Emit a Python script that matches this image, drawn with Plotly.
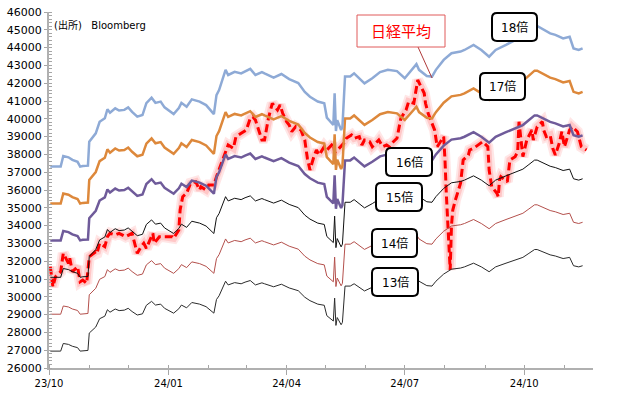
import plotly.graph_objects as go

# ---------------- data ----------------
nikkei_dates = [
    "2023-10-02", "2023-10-04", "2023-10-06", "2023-10-10", "2023-10-12", "2023-10-16", "2023-10-17",
    "2023-10-19", "2023-10-23", "2023-10-25", "2023-10-27", "2023-10-30", "2023-11-01", "2023-11-06",
    "2023-11-07", "2023-11-09", "2023-11-13", "2023-11-15", "2023-11-17", "2023-11-21", "2023-11-24",
    "2023-11-29", "2023-12-04", "2023-12-06", "2023-12-08", "2023-12-11", "2023-12-13", "2023-12-15",
    "2023-12-20", "2023-12-21", "2023-12-25", "2023-12-29", "2024-01-04", "2024-01-05", "2024-01-09",
    "2024-01-10", "2024-01-12", "2024-01-15", "2024-01-18", "2024-01-22", "2024-01-25", "2024-01-26",
    "2024-01-30", "2024-02-01", "2024-02-05", "2024-02-07", "2024-02-09", "2024-02-13", "2024-02-16",
    "2024-02-20", "2024-02-22", "2024-02-26", "2024-03-01", "2024-03-04", "2024-03-06", "2024-03-08",
    "2024-03-11", "2024-03-13", "2024-03-15", "2024-03-18", "2024-03-21", "2024-03-25", "2024-03-27",
    "2024-03-29", "2024-04-01", "2024-04-03", "2024-04-05", "2024-04-08", "2024-04-12", "2024-04-15",
    "2024-04-17", "2024-04-19", "2024-04-22", "2024-04-24", "2024-04-26", "2024-04-30", "2024-05-02",
    "2024-05-07", "2024-05-08", "2024-05-10", "2024-05-15", "2024-05-17", "2024-05-21", "2024-05-23",
    "2024-05-27", "2024-05-29", "2024-05-31", "2024-06-04", "2024-06-06", "2024-06-10", "2024-06-11",
    "2024-06-14", "2024-06-17", "2024-06-19", "2024-06-21", "2024-06-25", "2024-06-27", "2024-06-28",
    "2024-07-02", "2024-07-04", "2024-07-08", "2024-07-10", "2024-07-11", "2024-07-16", "2024-07-17",
    "2024-07-19", "2024-07-24", "2024-07-26", "2024-07-29", "2024-07-31", "2024-08-01", "2024-08-02",
    "2024-08-05", "2024-08-06", "2024-08-07", "2024-08-09", "2024-08-13", "2024-08-15", "2024-08-19",
    "2024-08-20", "2024-08-23", "2024-08-27", "2024-08-29", "2024-08-30", "2024-09-03", "2024-09-04",
    "2024-09-06", "2024-09-10", "2024-09-11", "2024-09-12", "2024-09-13", "2024-09-18", "2024-09-20",
    "2024-09-24", "2024-09-26", "2024-09-27", "2024-09-30", "2024-10-03", "2024-10-07", "2024-10-08",
    "2024-10-11", "2024-10-15", "2024-10-16", "2024-10-18", "2024-10-21", "2024-10-23", "2024-10-25",
    "2024-10-28", "2024-10-30", "2024-11-01", "2024-11-05", "2024-11-07", "2024-11-11", "2024-11-13",
    "2024-11-14", "2024-11-18",
]
nikkei = [
    31691, 30567, 31129, 31410, 32444, 31882, 32163,
    31410, 31691, 30848, 30944, 30758, 32253, 32534,
    32444, 33006, 32815, 33376, 33567, 33472, 33567,
    33376, 33567, 33006, 32444, 32815, 33006, 32725,
    33567, 33006, 33376, 33376, 33376, 33286, 33753,
    34876, 35624, 35815, 36376, 36466, 36000, 36185,
    36000, 36281, 36281, 36747, 37124, 37871, 38528,
    38343, 38994, 39185, 39371, 40028, 40118, 39933,
    39275, 38809, 38809, 40028, 40871, 40494, 40775,
    40309, 39837, 39652, 39275, 39556, 39371, 38809,
    37781, 37124, 37871, 38247, 37966, 38433, 38247,
    38624, 38100, 38229, 38624, 38904, 39090, 38904,
    39000, 38528, 38809, 38713, 38433, 38713, 38809,
    38433, 38528, 38433, 38624, 38904, 39556, 40028,
    40494, 40961, 40871, 41803, 42180, 41433, 40871,
    40309, 39371, 38433, 38809, 39000, 37685, 35815,
    31506, 34000, 34876, 35438, 36376, 37685, 37966,
    38247, 38343, 38528, 38624, 38713, 38433, 37124,
    36185, 35815, 35627, 36562, 36747, 36466, 37685,
    37871, 38152, 39837, 37871, 38809, 39371, 38809,
    39556, 39837, 39371, 39000, 39090, 38343, 37966,
    38624, 39275, 38433, 39371, 39556, 39275, 38624,
    38433, 38247,
]

# forward EPS (yen) underlying the PER band lines
eps_dates = [
    "2023-10-02", "2023-10-06", "2023-10-10", "2023-10-12", "2023-10-16", "2023-10-19", "2023-10-23",
    "2023-10-25", "2023-10-27", "2023-10-31", "2023-11-01", "2023-11-06", "2023-11-09", "2023-11-13",
    "2023-11-15", "2023-11-17", "2023-11-21", "2023-11-24", "2023-11-28", "2023-12-01", "2023-12-04",
    "2023-12-08", "2023-12-12", "2023-12-15", "2023-12-19", "2023-12-22", "2023-12-26", "2023-12-29",
    "2024-01-05", "2024-01-09", "2024-01-11", "2024-01-15", "2024-01-19", "2024-01-25", "2024-01-30",
    "2024-02-05", "2024-02-07", "2024-02-09", "2024-02-14", "2024-02-16", "2024-02-21", "2024-02-26",
    "2024-02-29", "2024-03-04", "2024-03-08", "2024-03-13", "2024-03-15", "2024-03-22", "2024-03-28",
    "2024-04-03", "2024-04-10", "2024-04-15", "2024-04-19", "2024-04-25", "2024-04-30", "2024-05-02",
    "2024-05-07", "2024-05-08", "2024-05-09", "2024-05-10", "2024-05-13", "2024-05-14", "2024-05-16",
    "2024-05-20", "2024-05-23", "2024-05-27", "2024-05-31", "2024-06-06", "2024-06-12", "2024-06-18",
    "2024-06-25", "2024-07-01", "2024-07-05", "2024-07-10", "2024-07-12", "2024-07-18", "2024-07-22",
    "2024-07-25", "2024-07-31", "2024-08-06", "2024-08-13", "2024-08-16", "2024-08-23", "2024-08-29",
    "2024-09-04", "2024-09-09", "2024-09-17", "2024-09-24", "2024-09-30", "2024-10-04", "2024-10-09",
    "2024-10-11", "2024-10-17", "2024-10-21", "2024-10-25", "2024-10-31", "2024-11-05", "2024-11-08",
    "2024-11-12", "2024-11-15",
]
eps = [
    2073, 2073, 2073, 2106, 2102, 2094, 2088,
    2073, 2075, 2076, 2151, 2177, 2213, 2224,
    2252, 2241, 2255, 2248, 2250, 2258, 2244,
    2229, 2234, 2271, 2288, 2272, 2276, 2258,
    2237, 2256, 2272, 2260, 2283, 2276, 2265,
    2237, 2296, 2312, 2375, 2359, 2369, 2364,
    2371, 2378, 2359, 2368, 2364, 2351, 2362,
    2346, 2334, 2306, 2291, 2276, 2271, 2226,
    2203, 2302, 2184, 2218, 2187, 2197, 2354,
    2354, 2364, 2349, 2333, 2349, 2368, 2375,
    2371, 2349, 2368, 2393, 2375, 2356, 2354,
    2375, 2406, 2427, 2432, 2437, 2453, 2437,
    2416, 2437, 2453, 2468, 2478, 2493, 2512,
    2512, 2499, 2489, 2484, 2473, 2478, 2442,
    2437, 2442,
]

multiples = [13, 14, 15, 16, 17, 18]
multiple_labels = ["13倍", "14倍", "15倍", "16倍", "17倍", "18倍"]
series_label = "日経平均"
source_label = "(出所)\u00a0\u00a0\u00a0Bloomberg"

y_ticks = list(range(26000, 46001, 1000))
x_tick_labels = ["23/10", "24/01", "24/04", "24/07", "24/10"]

# ---------------- styling ----------------
band_style = {
    13: dict(color="#2b2b2b", width=1),
    14: dict(color="#b4504c", width=1),
    15: dict(color="#111111", width=1),
    16: dict(color="#6f5b9a", width=2.5),
    17: dict(color="#dd883b", width=2.5),
    18: dict(color="#8eaad6", width=2.5),
}

W, H = 618, 399
L, R, T, B = 49, 25, 12, 31
PW, PH = W - L - R, H - T - B


def px(x, y):
    return (x - L) / PW, 1 - (y - T) / PH


def rounded_path(x0, y0, x1, y1, r):
    def p(x, y):
        a, b = px(x, y)
        return f"{a:.5f},{b:.5f}"
    return (f"M {p(x0 + r, y0)} L {p(x1 - r, y0)} Q {p(x1, y0)} {p(x1, y0 + r)} "
            f"L {p(x1, y1 - r)} Q {p(x1, y1)} {p(x1 - r, y1)} "
            f"L {p(x0 + r, y1)} Q {p(x0, y1)} {p(x0, y1 - r)} "
            f"L {p(x0, y0 + r)} Q {p(x0, y0)} {p(x0 + r, y0)} Z")


fig = go.Figure()

# Nikkei glow (under everything)
fig.add_trace(go.Scatter(x=nikkei_dates, y=nikkei, mode="lines",
                         line=dict(color="rgba(255,60,60,0.13)", width=11), hoverinfo="skip", showlegend=False))
fig.add_trace(go.Scatter(x=nikkei_dates, y=nikkei, mode="lines",
                         line=dict(color="rgba(255,60,60,0.18)", width=7), hoverinfo="skip", showlegend=False))
fig.add_trace(go.Scatter(x=nikkei_dates, y=nikkei, mode="lines", name=series_label,
                         line=dict(color="#ff0000", width=3, dash="8px,4px"), showlegend=False))

for k, lab in zip(multiples, multiple_labels):
    fig.add_trace(go.Scatter(x=eps_dates, y=[e * k for e in eps], mode="lines", name=lab,
                             line=band_style[k], showlegend=False))

shapes = []
annotations = []

# label boxes for PER bands (pixel boxes)
box_px = {
    "18倍": (492, 13, 537, 41),
    "17倍": (480, 73, 525, 100),
    "16倍": (386, 148, 432, 176),
    "15倍": (376, 183, 422, 211),
    "14倍": (372, 229, 417, 257),
    "13倍": (372, 268, 418, 296),
}
for lab in multiple_labels:
    x0, y0, x1, y1 = box_px[lab]
    shapes.append(dict(type="path", xref="paper", yref="paper", path=rounded_path(x0, y0, x1, y1, 5),
                       line=dict(color="#000000", width=2), fillcolor="#ffffff", layer="above"))
    cx, cy = px((x0 + x1) / 2, (y0 + y1) / 2)
    annotations.append(dict(x=cx, y=cy, xref="paper", yref="paper", text=lab, showarrow=False,
                            xanchor="center", yanchor="middle",
                            font=dict(family="DejaVu Sans, Noto Sans CJK JP", size=12, color="#000")))

# 日経平均 callout
shapes.append(dict(type="line", xref="paper", yref="paper",
                   x0=px(418, 47)[0], y0=px(418, 47)[1], x1=px(432, 78)[0], y1=px(432, 78)[1],
                   line=dict(color="#b03a3a", width=1), layer="above"))
shapes.append(dict(type="rect", xref="paper", yref="paper",
                   x0=px(357, 15)[0], y0=px(357, 15)[1], x1=px(445, 47)[0], y1=px(445, 47)[1],
                   line=dict(color="#e05a5a", width=1), fillcolor="#ffffff", layer="above"))
cx, cy = px(401, 31)
annotations.append(dict(x=cx, y=cy, xref="paper", yref="paper", text=series_label, showarrow=False,
                        xanchor="center", yanchor="middle",
                        font=dict(family="Noto Sans CJK JP", size=15, color="#ff0000")))

# source note
sx, sy = px(52, 25)
annotations.append(dict(x=sx, y=sy, xref="paper", yref="paper", text=source_label, showarrow=False,
                        xanchor="left", yanchor="middle",
                        font=dict(family="DejaVu Sans, Noto Sans CJK JP", size=10, color="#000")))

fig.update_layout(
    width=W, height=H,
    margin=dict(l=L, r=R, t=T, b=B, pad=0, autoexpand=False),
    paper_bgcolor="white", plot_bgcolor="white",
    shapes=shapes, annotations=annotations,
    showlegend=False,
    xaxis=dict(
        type="date",
        automargin=False,
        range=["2023-10-01", "2024-11-23"],
        tickvals=["2023-10-01", "2024-01-01", "2024-04-01", "2024-07-01", "2024-10-01"],
        ticktext=x_tick_labels,
        ticks="outside", ticklen=5, tickcolor="#a6a6a6", tickwidth=1,
        minor=dict(dtick="M1", tick0="2023-10-01", ticks="inside", ticklen=3, tickcolor="#a6a6a6", showgrid=False),
        showline=True, linecolor="#b0b0b0", linewidth=2,
        showgrid=False, zeroline=False,
        tickfont=dict(family="DejaVu Sans", size=10, color="#000"),
    ),
    yaxis=dict(
        automargin=False,
        range=[26000, 46000],
        tickvals=y_ticks,
        ticktext=[str(v) for v in y_ticks],
        ticks="outside", ticklen=3, tickcolor="#a6a6a6", tickwidth=1,
        minor=dict(dtick=200, tick0=26000, ticks="inside", ticklen=3, tickcolor="#a6a6a6", showgrid=False),
        showline=True, linecolor="#b0b0b0", linewidth=2,
        showgrid=False, zeroline=False,
        tickfont=dict(family="DejaVu Sans", size=11, color="#000"),
    ),
)

fig.write_html("out.html", config={"displayModeBar": False},
               post_script="document.body.style.margin='0';")
